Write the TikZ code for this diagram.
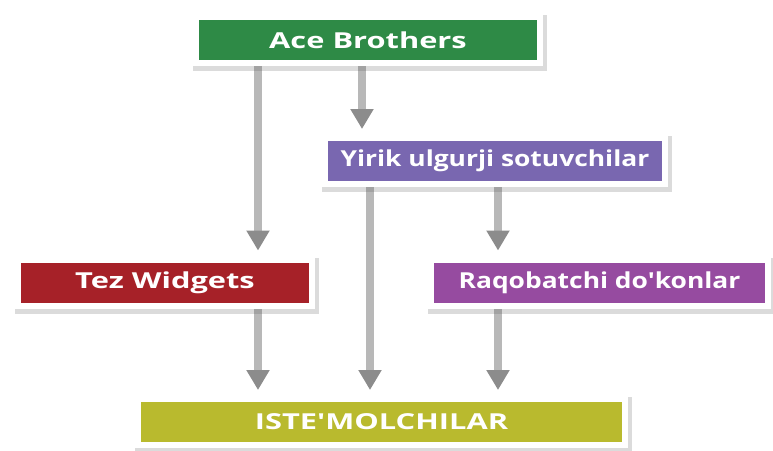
\documentclass[tikz,border=0pt]{standalone}
\usepackage{fontspec}
\newfontfamily\boxfont{Open Sans}[FakeStretch=1.4]
\newfontfamily\longfont{Open Sans}[FakeStretch=1.2]
\usetikzlibrary{arrows.meta,shadows,backgrounds}
\definecolor{acegreen}{RGB}{46,138,70}
\definecolor{yirikblue}{RGB}{121,103,176}
\definecolor{tezred}{RGB}{166,33,40}
\definecolor{raqpurple}{RGB}{150,75,160}
\definecolor{isteolive}{RGB}{185,186,46}
\begin{document}
\begin{tikzpicture}[x=1pt,y=-1pt,
    box/.style={draw=white,line width=6pt,text=white,inner sep=0pt,minimum height=46pt,
      font=\boxfont\bfseries\fontsize{22}{26}\selectfont,
      drop shadow={shadow xshift=2pt,shadow yshift=-3pt,opacity=0.2,fill=black!70,
        draw=black!70,line width=10pt}},
    longbox/.style={box,font=\longfont\bfseries\fontsize{22}{26}\selectfont},
    feed/.style={line width=8pt,draw=black!28,shorten >=6pt,
      -{Triangle[width=22pt,length=20pt,color=black!45,fill=black!45]}}]
      \useasboundingbox (0,0) rectangle (773,450);
      \draw
        (368,40) node[box,fill=acegreen,minimum width=344pt] (ace){Ace Brothers}
        (495,161) node[longbox,fill=yirikblue,minimum width=340pt] (yirik){Yirik ulgurji sotuvchilar}
        (165,282.5) node[box,fill=tezred,minimum width=294pt] (tez){Tez Widgets}
        (599.5,282.5) node[longbox,fill=raqpurple,minimum width=337pt] (raq){Raqobatchi do'konlar}
        (381.5,422) node[box,fill=isteolive,minimum width=487pt] (iste){ISTE'MOLCHILAR};
      \coordinate (tezx) at (258,0);
      \coordinate (yirx) at (362,0);
      \coordinate (lngx) at (370,0);
      \coordinate (raqx) at (498,0);
      \begin{scope}[on background layer]
        \fill[white] (0,0) rectangle (773,450);
        \draw[feed] (ace.south -| tezx) to (tez.north -| tezx);
        \draw[feed] (ace.south -| yirx) to (yirik.north -| yirx);
        \draw[feed] (yirik.south -| lngx) to (iste.north -| lngx);
        \draw[feed] (yirik.south -| raqx) to (raq.north -| raqx);
        \draw[feed] (tez.south -| tezx) to (iste.north -| tezx);
        \draw[feed] (raq.south -| raqx) to (iste.north -| raqx);
      \end{scope}
    \end{tikzpicture}
\end{document}
